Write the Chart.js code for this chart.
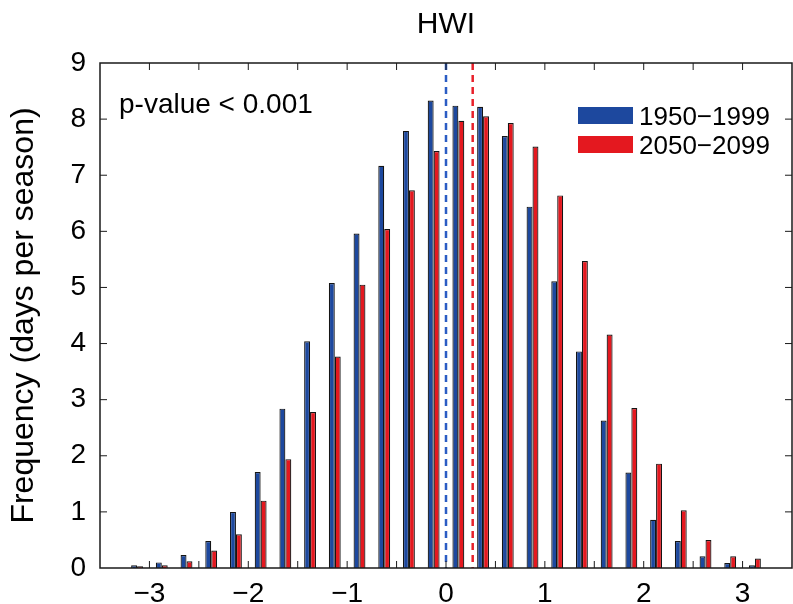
<!DOCTYPE html>
<html lang="en">
<head>
    <meta charset="UTF-8">
    <title>HWI frequency</title>
    <script src="https://cdn.jsdelivr.net/npm/chart.js@4"></script>
    <style>
        body { margin: 0; background: #fff; }
        .wrap { position: relative; width: 793px; height: 604px; font-family: "Liberation Sans", Arial, sans-serif; color: #000; }
        .note { position: absolute; left: 119px; top: 90px; font-size: 28px; line-height: 27px; white-space: nowrap; }
        .legend-row { position: absolute; left: 578px; height: 26px; font-size: 26px; line-height: 26px; white-space: nowrap; }
        .legend-row .sw { position: absolute; left: 0; top: 4px; width: 55px; height: 17px; }
        .legend-row .txt { position: absolute; left: 61px; top: 0; }
    </style>
</head>
<body>
    <div class="wrap">
        <canvas id="hwiChart" width="793" height="604"></canvas>
        <div class="note">p-value &lt; 0.001</div>
        <div id="legend"></div>
    </div>

    <script>
        // bin centres of the HWI histogram (bin width 0.25)
        const binCenters = [-3.125, -2.875, -2.625, -2.375, -2.125, -1.875, -1.625, -1.375, -1.125,
            -0.875, -0.625, -0.375, -0.125, 0.125, 0.375, 0.625, 0.875, 1.125, 1.375, 1.625,
            1.875, 2.125, 2.375, 2.625, 2.875, 3.125];

        // days per season
        const freq1950 = [0.05, 0.10, 0.23, 0.48, 1.00, 1.71, 2.84, 4.04, 5.08, 5.96, 7.17, 7.79, 8.33,
            8.24, 8.22, 7.70, 6.44, 5.11, 3.86, 2.63, 1.70, 0.86, 0.48, 0.21, 0.09, 0.05];
        const freq2050 = [0.03, 0.05, 0.12, 0.31, 0.60, 1.20, 1.94, 2.78, 3.77, 5.05, 6.04, 6.73, 7.43,
            7.97, 8.05, 7.93, 7.51, 6.64, 5.47, 4.16, 2.85, 1.86, 1.03, 0.50, 0.21, 0.17];

        const seriesNames = ['1950\u22121999', '2050\u22122099'];
        // mean HWI of each period (dashed lines)
        const meanValues = [0.0, 0.27];

        const barColors = ['#1d489e', '#e4181f'];
        const meanColors = ['#2b5cc4', '#e8202a'];

        Chart.defaults.font.family = "'Liberation Sans', Arial, sans-serif";
        Chart.defaults.color = '#000';

        // legend, top right inside the axes
        const legendEl = document.getElementById('legend');
        seriesNames.forEach((name, i) => {
            const row = document.createElement('div');
            row.className = 'legend-row';
            row.style.top = (103 + i * 29) + 'px';
            row.innerHTML = '<span class="sw" style="background:' + barColors[i] + '"></span><span class="txt">' + name + '</span>';
            legendEl.appendChild(row);
        });

        // box, inward ticks and the two dashed mean lines
        const framePlugin = {
            id: 'frame',
            afterDatasetsDraw(chart) {
                const { ctx, chartArea: a, scales: { x, y } } = chart;
                ctx.save();
                meanValues.forEach((m, i) => {
                    const px = x.getPixelForValue(m);
                    ctx.strokeStyle = meanColors[i];
                    ctx.lineWidth = 2.5;
                    ctx.setLineDash([7, 5]);
                    ctx.beginPath();
                    ctx.moveTo(px, a.top);
                    ctx.lineTo(px, a.bottom);
                    ctx.stroke();
                });
                ctx.setLineDash([]);
                ctx.strokeStyle = '#1a1a1a';
                ctx.lineWidth = 1.5;
                ctx.strokeRect(a.left, a.top, a.right - a.left, a.bottom - a.top);
                ctx.beginPath();
                x.ticks.forEach(t => {
                    const px = x.getPixelForValue(t.value);
                    if (px <= a.left + 1 || px >= a.right - 1) return;
                    ctx.moveTo(px, a.bottom); ctx.lineTo(px, a.bottom - 7);
                    ctx.moveTo(px, a.top); ctx.lineTo(px, a.top + 7);
                });
                y.ticks.forEach(t => {
                    const py = y.getPixelForValue(t.value);
                    if (py <= a.top + 1 || py >= a.bottom - 1) return;
                    ctx.moveTo(a.left, py); ctx.lineTo(a.left + 7, py);
                    ctx.moveTo(a.right, py); ctx.lineTo(a.right - 7, py);
                });
                ctx.lineWidth = 1;
                ctx.stroke();
                ctx.restore();
            }
        };

        const ctx = document.getElementById('hwiChart').getContext('2d');
        new Chart(ctx, {
            type: 'bar',
            data: {
                datasets: [freq1950, freq2050].map((vals, i) => ({
                    label: seriesNames[i],
                    data: binCenters.map((c, j) => ({ x: c, y: vals[j] })),
                    backgroundColor: barColors[i],
                    borderColor: '#151515',
                    borderWidth: 1.2,
                    borderSkipped: 'bottom',
                    categoryPercentage: 0.48,
                    barPercentage: 1.0
                }))
            },
            options: {
                responsive: false,
                animation: false,
                layout: { padding: { right: 1 } },
                plugins: {
                    legend: { display: false },
                    tooltip: { enabled: false },
                    title: {
                        display: true,
                        text: 'HWI',
                        fullSize: false,
                        font: { size: 30, weight: 'normal' },
                        padding: { top: 7, bottom: 20 }
                    }
                },
                scales: {
                    x: {
                        type: 'linear',
                        min: -3.5,
                        max: 3.5,
                        offset: false,
                        grid: { display: false, drawTicks: false },
                        border: { display: false },
                        ticks: {
                            stepSize: 0.5,
                            autoSkip: false,
                            maxRotation: 0,
                            padding: 9,
                            font: { size: 28 },
                            callback: v => Number.isInteger(v) ? String(v).replace('-', '\u2212') : ''
                        },
                        afterFit(scale) {
                            scale.height = 36;
                            scale.paddingLeft = 0;
                            scale.paddingRight = 0;
                        }
                    },
                    y: {
                        min: 0,
                        max: 9,
                        grid: { display: false, drawTicks: false },
                        border: { display: false },
                        ticks: { stepSize: 1, padding: 14, font: { size: 28 } },
                        title: {
                            display: true,
                            text: 'Frequency (days per season)',
                            font: { size: 32 },
                            padding: { top: 5 }
                        },
                        afterFit(scale) { scale.width = 100; }
                    }
                }
            },
            plugins: [framePlugin]
        });
    </script>
</body>
</html>
